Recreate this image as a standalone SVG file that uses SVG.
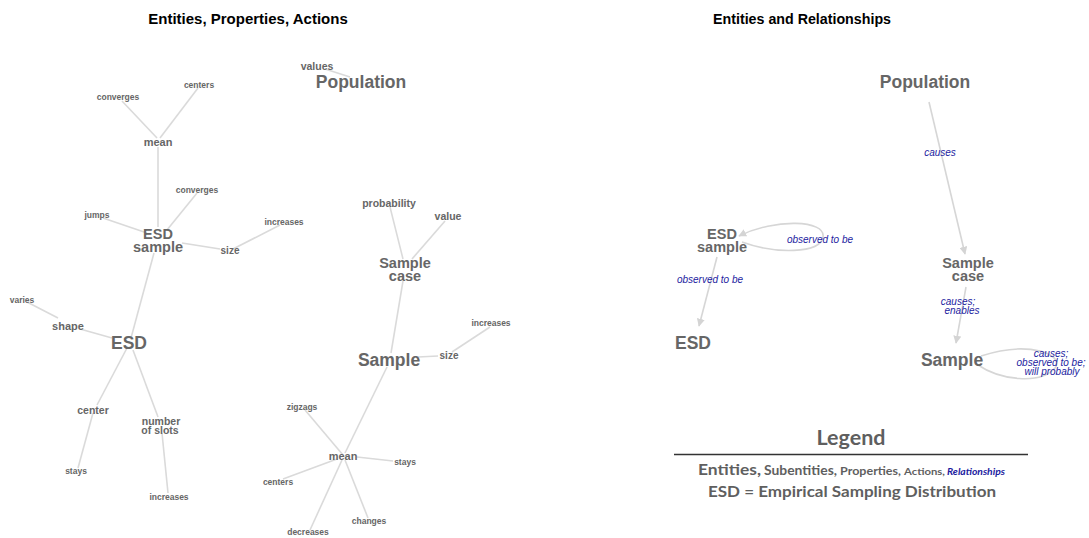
<svg xmlns="http://www.w3.org/2000/svg" width="1089" height="538" viewBox="0 0 1089 538">
  <defs>
    <marker id="arrow" viewBox="0 0 10 10" refX="9" refY="5" markerWidth="8" markerHeight="8" markerUnits="userSpaceOnUse" orient="auto">
      <path d="M0,0 L10,5 L0,10 z" fill="#d4d4d4"/>
    </marker>
    <style>
      .title { font-family: "Liberation Sans", Arial, sans-serif; font-weight: bold; font-size: 15px; fill: #000; text-anchor: middle; }
      text { font-family: "Liberation Sans", Arial, sans-serif; text-anchor: middle; }
      .ent { font-weight: bold; font-size: 17.5px; fill: #666; }
      .sub { font-weight: bold; font-size: 14.5px; fill: #666; }
      .prop { font-weight: bold; font-size: 10.5px; fill: #666; }
      .act { font-weight: bold; font-size: 8.5px; fill: #666; }
      .rel { font-style: italic; font-size: 10px; fill: #1c1ca0; }
      .edge { stroke: #dadada; stroke-width: 1.6; fill: none; }
      .arc { stroke: #d6d6d6; stroke-width: 1.6; fill: none; }
      .legend { font-family: Lato, "Open Sans", sans-serif; font-weight: bold; fill: #5f5f5f; }
    </style>
  </defs>

  <rect width="1089" height="538" fill="#fff"/>

  <text class="title" x="248" y="24">Entities, Properties, Actions</text>
  <text class="title" x="802" y="24" textLength="178" lengthAdjust="spacingAndGlyphs">Entities and Relationships</text>

  <!-- left panel: entities with their properties and actions -->
  <g id="left-edges">
    <line class="edge" x1="325" y1="69" x2="350" y2="77"/>
    <line class="edge" x1="122" y1="101" x2="157" y2="138"/>
    <line class="edge" x1="198" y1="88" x2="160" y2="138"/>
    <line class="edge" x1="158" y1="147" x2="158" y2="227"/>
    <line class="edge" x1="197" y1="193" x2="167" y2="230"/>
    <line class="edge" x1="103" y1="218" x2="147" y2="233"/>
    <line class="edge" x1="182" y1="243" x2="220" y2="249"/>
    <line class="edge" x1="233" y1="249" x2="280" y2="225"/>
    <line class="edge" x1="154" y1="253" x2="131" y2="338"/>
    <line class="edge" x1="27" y1="302" x2="58" y2="318"/>
    <line class="edge" x1="80" y1="329" x2="112" y2="338"/>
    <line class="edge" x1="127" y1="348" x2="97" y2="405"/>
    <line class="edge" x1="93" y1="413" x2="78" y2="468"/>
    <line class="edge" x1="133" y1="350" x2="158" y2="417"/>
    <line class="edge" x1="162" y1="433" x2="168" y2="493"/>
    <line class="edge" x1="390" y1="207" x2="403" y2="259"/>
    <line class="edge" x1="445" y1="221" x2="412" y2="259"/>
    <line class="edge" x1="403" y1="281" x2="391" y2="353"/>
    <line class="edge" x1="418" y1="357" x2="438" y2="356"/>
    <line class="edge" x1="452" y1="352" x2="490" y2="327"/>
    <line class="edge" x1="387" y1="367" x2="345" y2="453"/>
    <line class="edge" x1="305" y1="410" x2="343" y2="455"/>
    <line class="edge" x1="357" y1="457" x2="393" y2="461"/>
    <line class="edge" x1="337" y1="459" x2="283" y2="479"/>
    <line class="edge" x1="345" y1="460" x2="368" y2="518"/>
    <line class="edge" x1="342" y1="460" x2="310" y2="530"/>
  </g>

  <g id="l-population"><text class="ent" x="361" y="88">Population</text></g>
  <g id="l-values"><text class="prop" x="317" y="69.5">values</text></g>
  <g id="l-mean-top"><text class="prop" x="158" y="146" style="font-size:11px">mean</text></g>
  <g id="l-converges-1"><text class="act" x="118" y="100">converges</text></g>
  <g id="l-centers-1"><text class="act" x="199" y="88">centers</text></g>
  <g id="l-esd-sample"><text class="sub" x="158" y="238.5">ESD</text><text class="sub" x="158" y="251.5">sample</text></g>
  <g id="l-converges-2"><text class="act" x="197" y="193">converges</text></g>
  <g id="l-jumps"><text class="act" x="97" y="218">jumps</text></g>
  <g id="l-size-1"><text class="prop" x="230" y="254" style="font-size:10px">size</text></g>
  <g id="l-increases-1"><text class="act" x="284" y="225">increases</text></g>
  <g id="l-esd"><text class="ent" x="129" y="349">ESD</text></g>
  <g id="l-shape"><text class="prop" x="68" y="330" style="font-size:11px">shape</text></g>
  <g id="l-varies"><text class="act" x="22" y="303">varies</text></g>
  <g id="l-center"><text class="prop" x="93" y="414">center</text></g>
  <g id="l-stays-1"><text class="act" x="76" y="474">stays</text></g>
  <g id="l-slots"><text class="prop" x="161" y="425">number</text><text class="prop" x="160" y="434">of slots</text></g>
  <g id="l-increases-2"><text class="act" x="169" y="500">increases</text></g>
  <g id="l-probability"><text class="prop" x="389" y="207">probability</text></g>
  <g id="l-value"><text class="prop" x="448" y="220">value</text></g>
  <g id="l-sample-case"><text class="sub" x="405" y="267.5">Sample</text><text class="sub" x="405" y="280.5">case</text></g>
  <g id="l-sample"><text class="ent" x="389" y="366">Sample</text></g>
  <g id="l-size-2"><text class="prop" x="449" y="359" style="font-size:10px">size</text></g>
  <g id="l-increases-3"><text class="act" x="491" y="326">increases</text></g>
  <g id="l-mean-low"><text class="prop" x="343" y="460" style="font-size:11px">mean</text></g>
  <g id="l-zigzags"><text class="act" x="302" y="410">zigzags</text></g>
  <g id="l-stays-2"><text class="act" x="405" y="465">stays</text></g>
  <g id="l-centers-2"><text class="act" x="278" y="485">centers</text></g>
  <g id="l-changes"><text class="act" x="369" y="524">changes</text></g>
  <g id="l-decreases"><text class="act" x="308" y="535">decreases</text></g>

  <!-- right panel: entities and the relationships between them -->
  <g id="right-edges">
    <line class="arc" x1="929" y1="102" x2="965" y2="254" marker-end="url(#arrow)"/>
    <line class="arc" x1="966" y1="287" x2="956" y2="343" marker-end="url(#arrow)"/>
    <line class="arc" x1="717" y1="257" x2="699" y2="326" marker-end="url(#arrow)"/>
    <path class="arc" d="M742,242 C775,254 820,254 823,237 C826,220 775,218 739,236" marker-end="url(#arrow)"/>
    <path class="arc" d="M978,365 C1000,380 1040,385 1055,368 C1065,355 1030,340 981,356"/>
    <text class="rel" x="940" y="155.5">causes</text>
    <text class="rel" x="958" y="305">causes;</text>
    <text class="rel" x="962" y="314">enables</text>
    <text class="rel" x="1051" y="357">causes;</text>
    <text class="rel" x="1051" y="366">observed to be;</text>
    <text class="rel" x="1052" y="375">will probably</text>
    <text class="rel" x="820" y="243">observed to be</text>
    <text class="rel" x="710" y="283">observed to be</text>
  </g>

  <g id="r-population"><text class="ent" x="925" y="88">Population</text></g>
  <g id="r-sample-case"><text class="sub" x="968" y="267.5">Sample</text><text class="sub" x="968" y="280.5">case</text></g>
  <g id="r-sample"><text class="ent" x="952" y="366">Sample</text></g>
  <g id="r-esd-sample"><text class="sub" x="722" y="238.5">ESD</text><text class="sub" x="722" y="251.5">sample</text></g>
  <g id="r-esd"><text class="ent" x="693" y="349">ESD</text></g>

  <!-- legend -->
  <g id="legend">
    <text class="legend" x="851" y="445" font-size="20" textLength="69" lengthAdjust="spacingAndGlyphs">Legend</text>
    <line x1="674" y1="454.5" x2="1028" y2="454.5" stroke="#333" stroke-width="1.3"/>
    <text class="legend" x="698" y="475" font-size="15" style="text-anchor:start" textLength="63" lengthAdjust="spacingAndGlyphs">Entities,</text>
    <text class="legend" x="764" y="475" font-size="12.5" style="text-anchor:start" textLength="73" lengthAdjust="spacingAndGlyphs">Subentities,</text>
    <text class="legend" x="840" y="475" font-size="10.5" style="text-anchor:start" textLength="61" lengthAdjust="spacingAndGlyphs">Properties,</text>
    <text class="legend" x="904" y="475" font-size="8.5" style="text-anchor:start" textLength="41" lengthAdjust="spacingAndGlyphs">Actions,</text>
    <text class="legend" x="947" y="475" font-size="9" style="text-anchor:start;font-style:italic;fill:#1c1ca0" textLength="58" lengthAdjust="spacingAndGlyphs">Relationships</text>
    <text class="legend" x="852" y="497" font-size="15.5" textLength="288" lengthAdjust="spacingAndGlyphs">ESD = Empirical Sampling Distribution</text>
  </g>
</svg>
